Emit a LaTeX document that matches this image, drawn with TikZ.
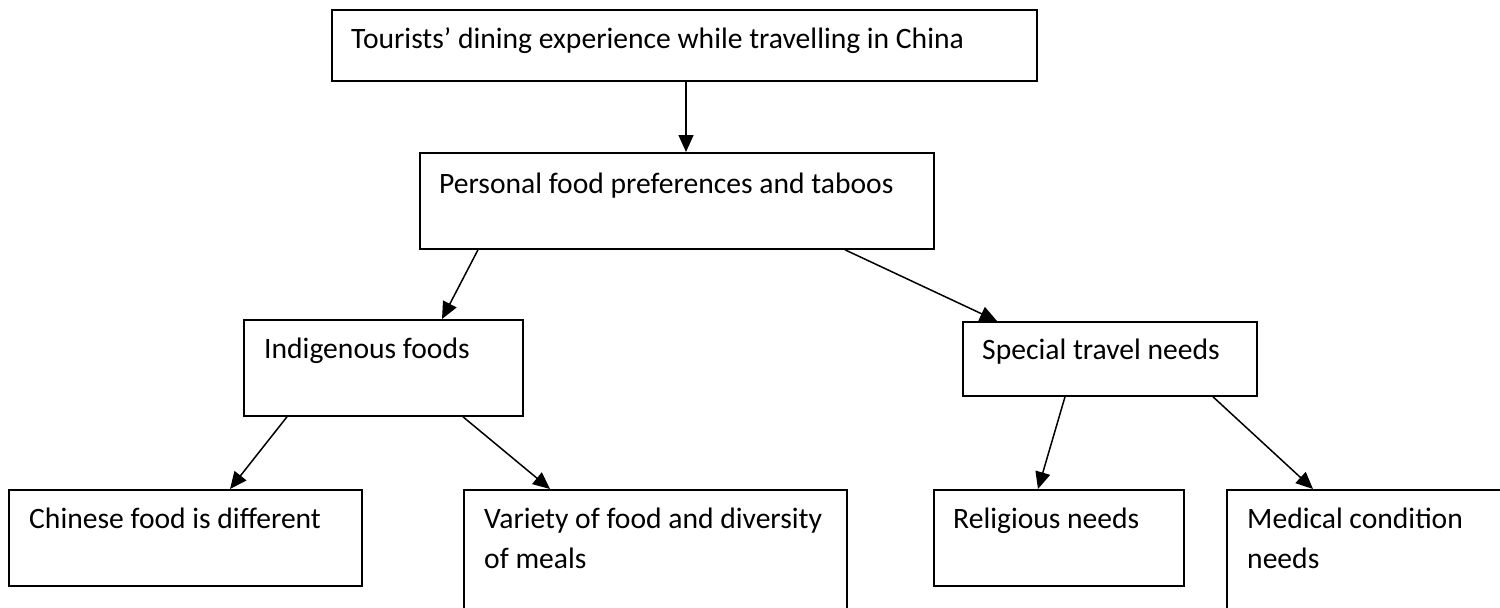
\documentclass[tikz,border=0pt]{standalone}
\usepackage{fontspec}
\setmainfont{Carlito}
\usetikzlibrary{arrows.meta}
\begin{document}
\begin{tikzpicture}[x=1pt,y=-1pt,
  box/.style={draw=black, line width=1.8pt, anchor=north west, inner sep=0pt, fill=none},
  lbl/.style={anchor=base west, inner sep=0pt, align=left,
              font=\fontsize{29.6}{40}\selectfont},
  link/.style={draw=black, line width=1.5pt, -{Triangle[length=17pt,width=15pt]}}]
  \useasboundingbox (0,0) rectangle (1500,608);
  \clip (0,0) rectangle (1500,608);
  \fill[white] (0,0) rectangle (1500,608);

  % boxes
  \node[box, minimum width=705pt, minimum height=71pt] (b1) at (331,9) {};
  \node[box, minimum width=514pt, minimum height=96pt] (b2) at (419,152) {};
  \node[box, minimum width=279pt, minimum height=96pt] (b3) at (243,319) {};
  \node[box, minimum width=294pt, minimum height=74pt] (b4) at (962,321) {};
  \node[box, minimum width=353pt, minimum height=96pt] (b5) at (8,489) {};
  \node[box, minimum width=383pt, minimum height=140pt] (b6) at (463,489) {};
  \node[box, minimum width=250pt, minimum height=96pt] (b7) at (933,489) {};
  \node[box, minimum width=320pt, minimum height=140pt] (b8) at (1226,489) {};

  % labels (base anchor of a two-line label sits on its last line)
  \node[lbl] (t1) at ([xshift=20pt,yshift=-39pt]b1.north west) {Tourists’ dining experience while travelling in China};
  \node[lbl] (t2) at ([xshift=20pt,yshift=-41pt]b2.north west) {Personal food preferences and taboos};
  \node[lbl] (t3) at ([xshift=21pt,yshift=-39pt]b3.north west) {Indigenous foods};
  \node[lbl] (t4) at ([xshift=20pt,yshift=-38pt]b4.north west) {Special travel needs};
  \node[lbl] (t5) at ([xshift=21pt,yshift=-39pt]b5.north west) {Chinese food is different};
  \node[lbl] (t6) at ([xshift=21pt,yshift=-79pt]b6.north west) {Variety of food and diversity\\of meals};
  \node[lbl] (t7) at ([xshift=20pt,yshift=-39pt]b7.north west) {Religious needs};
  \node[lbl] (t8) at ([xshift=21pt,yshift=-79pt]b8.north west) {Medical condition\\needs};

  % connectors
  \draw[link] ([xshift=355pt]b1.south west) -- ([xshift=267pt]b2.north west);
  \draw[link] ([xshift=59pt]b2.south west) -- ([xshift=199pt]b3.north west);
  \draw[link] ([xshift=426pt]b2.south west) -- ([xshift=35pt]b4.north west);
  \draw[link] ([xshift=44pt]b3.south west) -- ([xshift=222pt]b5.north west);
  \draw[link] ([xshift=220pt]b3.south west) -- ([xshift=87pt]b6.north west);
  \draw[link] ([xshift=103pt]b4.south west) -- ([xshift=105pt]b7.north west);
  \draw[link] ([xshift=251pt]b4.south west) -- ([xshift=87pt]b8.north west);
\end{tikzpicture}
\end{document}
